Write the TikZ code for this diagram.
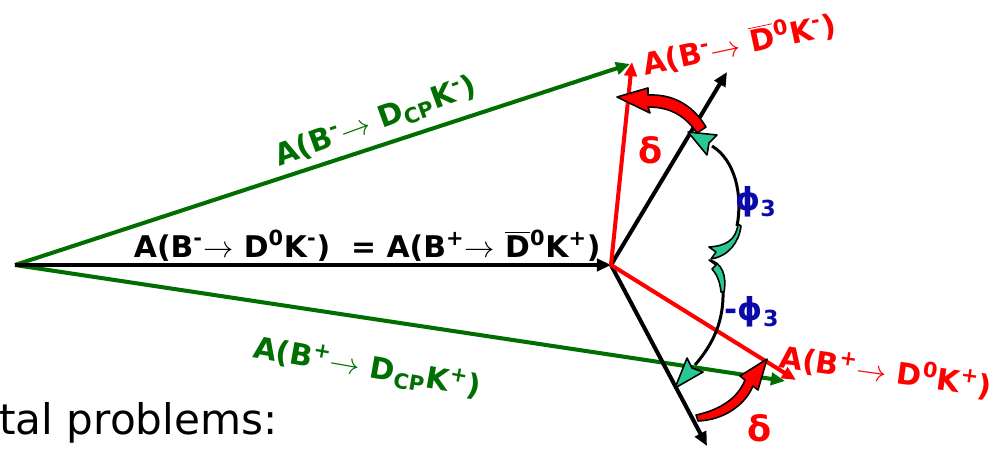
\documentclass[tikz,border=0pt]{standalone}
\usepackage{fontspec}
\setmainfont{DejaVu Sans}
\usetikzlibrary{arrows.meta}
\definecolor{dgreen}{RGB}{0,110,0}
\definecolor{mint}{RGB}{40,200,150}
\definecolor{navy}{RGB}{10,10,170}
\newcommand{\myarr}{$\rightarrow$\ }
\newcommand{\Dbar}{$\overline{\hbox{D}}$}
\begin{document}
\begin{tikzpicture}[x=0.02cm,y=-0.02cm,
  lbl/.style={font=\fontsize{17}{20}\selectfont\bfseries, inner sep=0pt},
  sym/.style={font=\fontsize{20}{22}\selectfont\bfseries, inner sep=0pt},
  vec/.style={line width=2.3pt, -{Triangle[length=8pt,width=7pt]}},
  arcline/.style={line width=1.7pt, black},
  blockarrow/.style={fill=red, draw=black, line width=0.9pt, line join=round},
  tailshape/.style={fill=mint, draw=black, line width=0.9pt, line join=round}]
\useasboundingbox (0,0) rectangle (994,449);
\coordinate (O) at (15,265);
\coordinate (V) at (611,265);
\coordinate (GT) at (630,64);
\coordinate (RT) at (632,62);
\coordinate (GB) at (785,381);
\coordinate (RB) at (796,380);
\coordinate (BU) at (727,72);
\coordinate (BD) at (707,446);
\coordinate (A1s) at (737,226);
\coordinate (A1e) at (712,146);
\coordinate (A2s) at (723,290);
\coordinate (A2e) at (695,365);
% green vectors
\draw[vec, dgreen] (O) -- (GT);
\draw[vec, dgreen] (O) -- (GB);
% black vectors
\draw[vec, black] (O) -- (V);
\draw[vec, black] (V) -- (BU);
\draw[vec, black] (V) -- (BD);
% red vectors
\draw[vec, red] (V) -- (RT);
\draw[vec, red] (V) -- (RB);
% phi3 arcs
\draw[arcline] (A1s) .. controls (743,195) and (735,160) .. (A1e);
\draw[arcline] (A2s) .. controls (724,320) and (714,343) .. (A2e);
\filldraw[tailshape] (688,132) -- (717,135) -- (709,143) -- (707,155) -- cycle;
\filldraw[tailshape] (675,388) -- (703,372) -- (692,368) -- (687,358) -- cycle;
\filldraw[tailshape] (738,224) .. controls (736,240) and (726,246) .. (709,247) -- (716,252) -- (711,259) .. controls (729,256) and (739,242) .. (741,226) -- cycle;
\filldraw[tailshape] (709,260) .. controls (722,262) and (727,276) .. (724,292) -- (721,292) .. controls (720,281) and (716,273) .. (712,269) -- (716,265) -- cycle;
% delta block arrows
\filldraw[blockarrow] (706,127) .. controls (692,104) and (672,94) .. (648,95) -- (648,88) -- (617,97) -- (650,113) -- (648,107) .. controls (668,107) and (684,114) .. (697,133) -- cycle;
\filldraw[blockarrow] (696,415) .. controls (720,410) and (738,398) .. (745,380) -- (740,376) -- (767,359) -- (758,390) -- (753,386) .. controls (745,405) and (724,420) .. (698,421) -- cycle;
% labels
\node[lbl, anchor=base east] (l0) at (601,257) {A(B\textsuperscript{-}\myarr D\textsuperscript{0}K\textsuperscript{-})~~= A(B\textsuperscript{+}\myarr \Dbar\textsuperscript{0}K\textsuperscript{+})};
\node[lbl, dgreen, rotate=20] (lg1) at (376,122) {A(B\textsuperscript{-}\myarr D\textsubscript{CP}K\textsuperscript{-})};
\node[lbl, dgreen, rotate=-10] (lg2) at (367,368) {A(B\textsuperscript{+}\myarr D\textsubscript{CP}K\textsuperscript{+})};
\node[lbl, red, rotate=12] (lr1) at (739,44) {A(B\textsuperscript{-}\myarr \Dbar\textsuperscript{0}K\textsuperscript{-})};
\node[lbl, red, rotate=-8] (lr2) at (886,371) {A(B\textsuperscript{+}\myarr D\textsuperscript{0}K\textsuperscript{+})};
\node[sym, red] (d1) at (651,150) {δ};
\node[sym, red] (d2) at (760,428) {δ};
\node[sym, navy, font=\fontsize{18}{20}\selectfont\bfseries] (p1) at (756,202) {ϕ\textsubscript{3}};
\node[sym, navy, font=\fontsize{18}{20}\selectfont\bfseries] (p2) at (752,312) {-ϕ\textsubscript{3}};
\node[anchor=base west, inner sep=0pt, font=\fontsize{24}{27}\selectfont] (txt) at (-1,434) {tal problems:};
\end{tikzpicture}
\end{document}
